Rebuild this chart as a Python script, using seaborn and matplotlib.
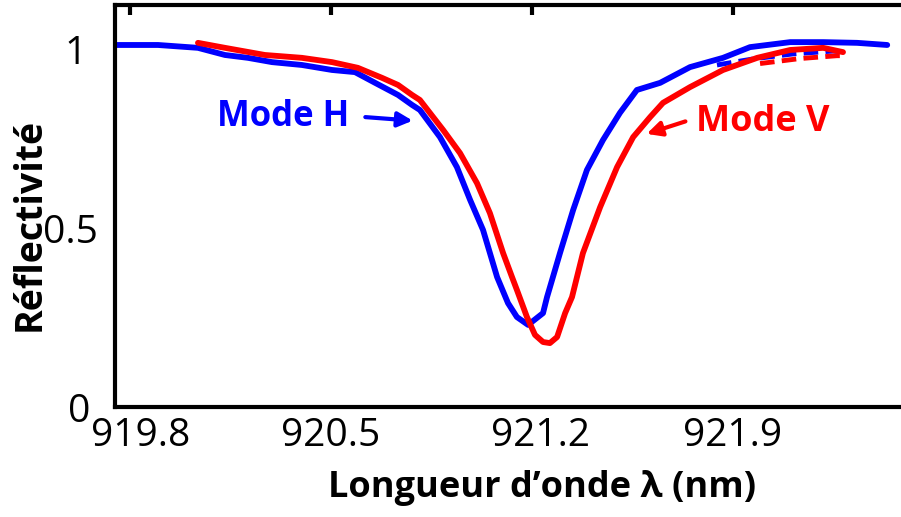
import matplotlib
matplotlib.use("Agg")
import matplotlib.pyplot as plt
import matplotlib.transforms as mtrans
import seaborn as sns

# ---- data ----
h_wl = [919.748, 919.898, 920.037, 920.131, 920.211, 920.295, 920.399, 920.504,
        920.584, 920.654, 920.734, 920.783, 920.810, 920.880, 920.939, 920.985,
        921.030, 921.079, 921.117, 921.148, 921.187, 921.239, 921.253, 921.298,
        921.344, 921.392, 921.448, 921.507, 921.566, 921.647, 921.751, 921.866,
        921.960, 922.100, 922.215, 922.333, 922.438]
h_refl = [1.014, 1.014, 1.006, 0.986, 0.978, 0.966, 0.958, 0.944,
          0.938, 0.908, 0.874, 0.846, 0.832, 0.756, 0.672, 0.580,
          0.496, 0.364, 0.291, 0.252, 0.230, 0.263, 0.308, 0.431,
          0.552, 0.664, 0.748, 0.824, 0.888, 0.908, 0.952, 0.978,
          1.008, 1.022, 1.022, 1.020, 1.014]

v_wl = [920.037, 920.131, 920.270, 920.399, 920.504, 920.594, 920.678, 920.734,
        920.783, 920.810, 920.891, 920.950, 921.009, 921.054, 921.100, 921.131,
        921.148, 921.183, 921.211, 921.239, 921.263, 921.288, 921.316, 921.340,
        921.378, 921.438, 921.497, 921.553, 921.612, 921.657, 921.751, 921.866,
        921.985, 922.100, 922.215, 922.284]
v_refl = [1.020, 1.006, 0.986, 0.978, 0.966, 0.950, 0.922, 0.902,
          0.874, 0.860, 0.776, 0.711, 0.627, 0.543, 0.431, 0.364,
          0.328, 0.252, 0.202, 0.182, 0.179, 0.196, 0.263, 0.308,
          0.431, 0.560, 0.672, 0.756, 0.812, 0.852, 0.896, 0.944,
          0.978, 1.000, 1.006, 0.994]

h_fit_wl = [921.845, 921.971, 922.110, 922.249, 922.298]
h_fit_refl = [0.958, 0.975, 0.989, 0.997, 0.994]
v_fit_wl = [921.995, 922.134, 922.263, 922.298]
v_fit_refl = [0.962, 0.976, 0.984, 0.984]

x_ticks = [919.8, 920.5, 921.2, 921.9]
x_ticklabels = ["919.8", "920.5", "921.2", "921.9"]
y_ticks = [0, 0.5, 1]
y_ticklabels = ["0", "0.5", "1"]

sns.set_theme(style="white")
plt.rcParams['font.family'] = ['Open Sans', 'DejaVu Sans']

W, H = 901, 517
fig = plt.figure(figsize=(W / 100, H / 100), dpi=100)
ax = fig.add_axes([115 / W, (H - 407) / H, (W - 115) / W, (407 - 5) / H])

BLUE = "#0000ff"
RED = "#ff0000"
kw = dict(solid_joinstyle="round", solid_capstyle="round")
sns.lineplot(x=h_fit_wl, y=h_fit_refl, ax=ax, color=BLUE, lw=3.5,
             linestyle=(0, (3, 1.5)), sort=False)
sns.lineplot(x=v_fit_wl, y=v_fit_refl, ax=ax, color=RED, lw=3.5,
             linestyle=(0, (3, 1.5)), sort=False)
sns.lineplot(x=h_wl, y=h_refl, ax=ax, color=BLUE, lw=4.2, sort=False, **kw)
sns.lineplot(x=v_wl, y=v_refl, ax=ax, color=RED, lw=4.2, sort=False, **kw)

ax.set_xlim(919.748, 922.486)
ax.set_ylim(0, 1.126)
ax.set_xticks(x_ticks)
ax.set_xticklabels(x_ticklabels)
ax.set_yticks(y_ticks)
ax.set_yticklabels(y_ticklabels)

for s in ["left", "bottom", "top"]:
    ax.spines[s].set_visible(True)
    ax.spines[s].set_color("black")
    ax.spines[s].set_linewidth(3)
ax.spines["right"].set_visible(False)

ax.tick_params(axis="x", direction="in", length=12, width=3, color="black",
               labelsize=28, pad=7, labelcolor="black")
ax.tick_params(axis="y", length=0, labelsize=28, pad=12, labelcolor="black")

# small per-label offsets (pixels) as in the reference layout
def shift(label, dx, dy=0):
    label.set_transform(label.get_transform() +
                        mtrans.ScaledTranslation(dx / 100, dy / 100, fig.dpi_scale_trans))

xlabels = ax.get_xticklabels()
shift(xlabels[0], 11)
shift(xlabels[2], 9)
ylabels = ax.get_yticklabels()
shift(ylabels[0], -8)
shift(ylabels[2], -12)

top = ax.secondary_xaxis("top")
top.set_xticks(x_ticks)
top.set_xticklabels([])
top.tick_params(direction="in", length=7, width=3, color="black")
top.spines["top"].set_visible(False)

ax.set_xlabel("Longueur d\u2019onde \u03bb (nm)", fontsize=26, fontweight="bold",
              color="black")
ax.xaxis.set_label_coords(0.543, -0.157)
ax.set_ylabel("R\u00e9flectivit\u00e9", fontsize=27, fontweight="bold",
              color="black")
ax.yaxis.set_label_coords(-0.085, 0.455)

ax.text(920.333, 0.812, "Mode H", color=BLUE, fontsize=25, fontweight="bold",
        ha="center", va="center")
ax.annotate("", xy=(920.785, 0.802), xytext=(920.62, 0.812),
            arrowprops=dict(arrowstyle="-|>", lw=3, color=BLUE, mutation_scale=22,
                            shrinkA=0, shrinkB=0))
ax.text(922.005, 0.798, "Mode V", color=RED, fontsize=26, fontweight="bold",
        ha="center", va="center")
ax.annotate("", xy=(921.60, 0.765), xytext=(921.735, 0.800),
            arrowprops=dict(arrowstyle="-|>", lw=3, color=RED, mutation_scale=22,
                            shrinkA=0, shrinkB=0))

fig.savefig("out.png", dpi=100)
